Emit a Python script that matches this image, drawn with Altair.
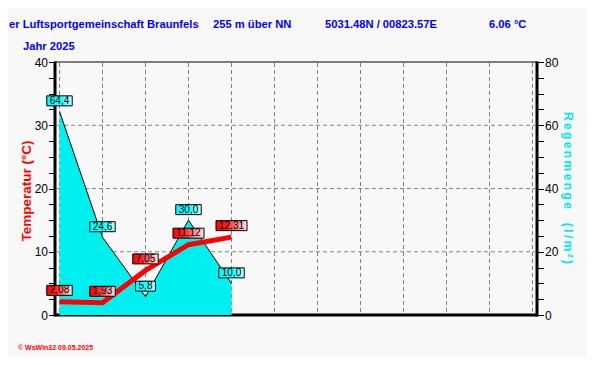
import altair as alt
import pandas as pd

# ---- data ----
months = ["Jan", "Feb", "Mrz", "Apr", "Mai", "Jun", "Jul", "Aug", "Sep", "Okt", "Nov", "Dez"]
obs_months = ["Jan", "Feb", "Mrz", "Apr", "Mai"]
temp_values = [2.08, 1.93, 7.05, 11.12, 12.31]
rain_values = [64.4, 24.6, 5.8, 30.0, 10.0]
temp_labels = ["2,08", "1,93", "7,05", "11,12", "12,31"]
rain_labels = ["64,4", "24,6", "5,8", "30,0", "10,0"]
temp_grid = [10, 20, 30]
temp_tick_step = 2.5
rain_tick_step = 5

title_parts = ["er Luftsportgemeinschaft Braunfels", "255 m über NN",
               "5031.48N / 00823.57E", "6.06 °C"]
year_text = "Jahr  2025"
left_title = "Temperatur  (°C)"
right_title = "Regenmenge  (l/m²)"
footer_text = "© WsWin32  09.05.2025"

# ---- layout ----
W, H = 482, 253
PX_PER_MONTH = 43.0
FONT = "Liberation Sans"
BLUE = "#0000FF"
RED = "#FF0000"
CYAN = "#00F0F0"
BG = "#F8F8F8"
THIN = "\u2009"


def spaced(s):
    return THIN.join(list(s))


pad_m = 4.5 / PX_PER_MONTH
xs = alt.Scale(domain=[-pad_m, 11 + pad_m], nice=False, zero=False)
ts = alt.Scale(domain=[0, 40], nice=False, zero=False)
rs = alt.Scale(domain=[0, 80], nice=False, zero=False)

obs = pd.DataFrame({"m": list(range(len(obs_months))), "month": obs_months,
                    "temp": temp_values, "rain": rain_values,
                    "tlab": temp_labels, "rlab": rain_labels})
grid_m = pd.DataFrame({"m": list(range(len(months)))})
grid_t = pd.DataFrame({"t": temp_grid})
one = pd.DataFrame({"k": [0]})

month_js = "[" + ",".join("'%s'" % m for m in months) + "]"

x_axis = alt.Axis(values=[i / 4 for i in range(0, 45)],
                  labelExpr="datum.value % 1 === 0 ? " + month_js + "[round(datum.value)] : ''",
                  labelOverlap=False, labelFlush=False, grid=False, title=None,
                  domain=False, tickColor="black", tickSize=5.5,
                  labelFont=FONT, labelFontSize=12, labelColor="black", labelPadding=2)
t_axis = alt.Axis(orient="left", values=[i * temp_tick_step for i in range(17)],
                  labelExpr="datum.value % 10 === 0 ? datum.label : ''",
                  grid=False, title=None, domain=False,
                  tickColor="black", tickSize=6.5, labelFont=FONT, labelFontSize=12,
                  labelColor="black", labelPadding=1)
r_axis = alt.Axis(orient="right", values=[i * rain_tick_step for i in range(17)],
                  labelExpr="datum.value % 20 === 0 ? datum.label : ''",
                  grid=False, title=None, domain=False,
                  tickColor="black", tickSize=6.5, labelFont=FONT, labelFontSize=12,
                  labelColor="black", labelPadding=1)

dash = [4, 3]
grid_v = alt.Chart(grid_m).mark_rule(color="#808080", strokeDash=dash, strokeWidth=1).encode(
    x=alt.X("m:Q", scale=xs, axis=None), y=alt.value(1), y2=alt.value(H - 2))
grid_h = alt.Chart(grid_t).mark_rule(color="#808080", strokeDash=dash, strokeWidth=1).encode(
    y=alt.Y("t:Q", scale=ts, axis=None), x=alt.value(2), x2=alt.value(W - 2))

# plot frame (thick left / right / bottom, thin top)
frame = [
    alt.Chart(one).mark_rule(color="black", strokeWidth=1).encode(
        x=alt.value(0), x2=alt.value(W), y=alt.value(0)),
    alt.Chart(one).mark_rule(color="black", strokeWidth=3).encode(
        x=alt.value(0), y=alt.value(-0.5), y2=alt.value(H + 1.5)),
    alt.Chart(one).mark_rule(color="black", strokeWidth=3).encode(
        x=alt.value(W), y=alt.value(-0.5), y2=alt.value(H + 1.5)),
    alt.Chart(one).mark_rule(color="black", strokeWidth=3).encode(
        x=alt.value(0), x2=alt.value(W), y=alt.value(H)),
]

area = alt.Chart(obs).mark_area(color=CYAN, opacity=1,
                                line={"color": "black", "strokeWidth": 1}).encode(
    x=alt.X("m:Q", scale=xs, axis=x_axis),
    y=alt.Y("rain:Q", scale=rs, axis=r_axis))

line = alt.Chart(obs).mark_line(color=RED, strokeWidth=5, strokeJoin="miter").encode(
    x=alt.X("m:Q", scale=xs, axis=None),
    y=alt.Y("temp:Q", scale=ts, axis=t_axis))

hw_expr = "(5.56 * (length(datum.{f}) - 1) + 2.78 + 6) / 2 / " + str(PX_PER_MONTH)

red_grad = {"gradient": "linear", "x1": 0, "x2": 1, "y1": 0, "y2": 0,
            "stops": [{"offset": 0, "color": "#FF0000"},
                      {"offset": 0.35, "color": "#FF2020"},
                      {"offset": 1, "color": "#FFE4E4"}]}
cyan_grad = {"gradient": "linear", "x1": 0, "x2": 1, "y1": 0, "y2": 0,
             "stops": [{"offset": 0, "color": "#00FFFF"},
                       {"offset": 0.6, "color": "#20FFFF"},
                       {"offset": 1, "color": "#C8FFFF"}]}

rbox = alt.Chart(obs).transform_calculate(
    hw=hw_expr.format(f="rlab")).transform_calculate(
    lo="datum.m - datum.hw", hi="datum.m + datum.hw").mark_rect(
    fill=cyan_grad, stroke="black", strokeWidth=1, yOffset=-15.5, y2Offset=-5.5).encode(
    x=alt.X("lo:Q", scale=xs, axis=None), x2="hi:Q",
    y=alt.Y("rain:Q", scale=rs, axis=None), y2="rain:Q")
rtext = alt.Chart(obs).mark_text(font=FONT, fontSize=10, color="black", align="center",
                                 baseline="middle", dy=-10.5).encode(
    x=alt.X("m:Q", scale=xs, axis=None),
    y=alt.Y("rain:Q", scale=rs, axis=None), text="rlab:N")

tbox = alt.Chart(obs).transform_calculate(
    hw=hw_expr.format(f="tlab")).transform_calculate(
    lo="datum.m - datum.hw", hi="datum.m + datum.hw").mark_rect(
    fill=red_grad, stroke="black", strokeWidth=1, yOffset=-16.5, y2Offset=-6.5).encode(
    x=alt.X("lo:Q", scale=xs, axis=None), x2="hi:Q",
    y=alt.Y("temp:Q", scale=ts, axis=None), y2="temp:Q")
ttext = alt.Chart(obs).mark_text(font=FONT, fontSize=10, color="black", align="center",
                                 baseline="middle", dy=-11.5).encode(
    x=alt.X("m:Q", scale=xs, axis=None),
    y=alt.Y("temp:Q", scale=ts, axis=None), text="tlab:N")


def txt(s, x, y, **kw):
    return alt.Chart(pd.DataFrame({"t": [s]})).mark_text(**kw).encode(
        text="t:N", x=alt.value(x), y=alt.value(y))


head_kw = dict(font=FONT, fontSize=11.2, fontWeight="bold", color=BLUE, baseline="middle")
texts = [
    txt(title_parts[0], -46, -37, align="left", **head_kw),
    txt(title_parts[1], 158, -37, align="left", **head_kw),
    txt(title_parts[2], 270, -37, align="left", **head_kw),
    txt(title_parts[3], 434, -37, align="left", **head_kw),
    txt(year_text, -32, -15, align="left", **head_kw),
    txt(left_title, -28, 129, align="center", angle=270, font=FONT, fontSize=13.5,
        fontWeight="bold", color=RED, baseline="middle"),
    txt(spaced(right_title), 513, 126, align="center", angle=90, font=FONT, fontSize=12,
        fontWeight="bold", color="#00E8F0", baseline="middle"),
    txt(footer_text, -37, 286, align="left", font=FONT, fontSize=7, fontWeight="bold",
        color=RED, baseline="middle"),
]

chart = alt.layer(grid_v, grid_h, *frame, area, line, rbox, rtext, tbox, ttext,
                  *texts).resolve_scale(
    y="independent").properties(
    width=W, height=H,
    padding={"left": 47, "top": 54, "right": 50, "bottom": 42},
    autosize=alt.AutoSizeParams(type="none"),
    background=BG,
).configure_view(strokeWidth=0, fill=BG)

chart.save("out.html", embed_options={"renderer": "svg", "actions": False})
